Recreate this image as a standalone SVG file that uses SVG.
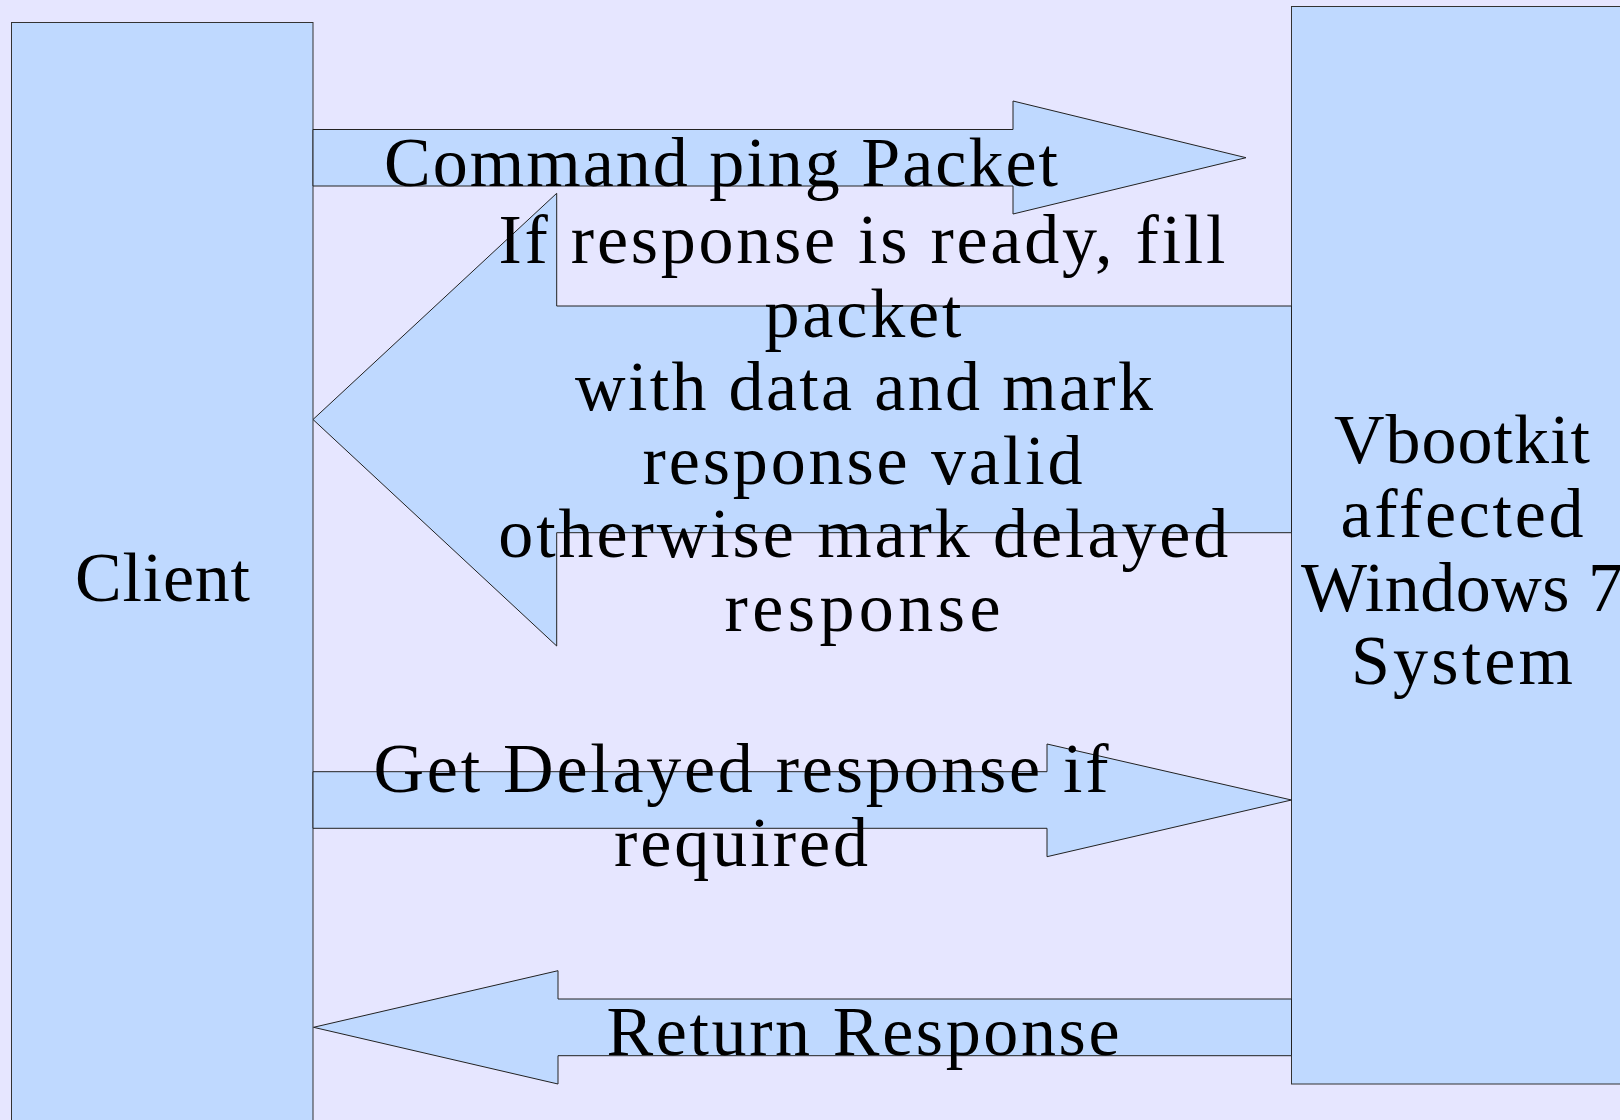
<svg xmlns="http://www.w3.org/2000/svg" width="1620" height="1120" viewBox="0 0 1620 1120">
<style>
.bg{fill:#e6e6ff}
.box{fill:#bfd9ff;stroke:#333;stroke-width:1}
.arrow{fill:#bfd9ff;stroke:#222;stroke-width:1;stroke-linejoin:miter}
.t{font-family:"Liberation Serif","Times New Roman",serif;font-size:70px;fill:#000;text-anchor:middle}
</style>
<rect class="bg" x="0" y="0" width="1620" height="1120"/>
<g id="client">
<rect class="box" x="11.5" y="22.5" width="301.5" height="1110"/>
<text class="t" x="162.5" y="601" textLength="175" lengthAdjust="spacing">Client</text>
</g>
<g id="vbootkit">
<rect class="box" x="1291.5" y="6.5" width="340" height="1077.5"/>
<text class="t" x="1462" y="463" textLength="256" lengthAdjust="spacing">Vbootkit</text>
<text class="t" x="1462" y="537" textLength="243" lengthAdjust="spacing">affected</text>
<text class="t" x="1462" y="611" textLength="322" lengthAdjust="spacing">Windows 7</text>
<text class="t" x="1462" y="684" textLength="222" lengthAdjust="spacing">System</text>
</g>
<g id="connectors">
<polygon id="arrow-command" class="arrow" points="313,129.5 1013,129.5 1013,101 1246,157.7 1013,214 1013,186 313,186"/>
<polygon id="arrow-response" class="arrow" points="1291.5,306 556.7,306 556.7,193.3 313,419.5 556.7,646 556.7,532.7 1291.5,532.7"/>
<polygon id="arrow-delayed" class="arrow" points="313,771.7 1047,771.7 1047,744 1291.5,800 1047,856.7 1047,828.3 313,828.3"/>
<polygon id="arrow-return" class="arrow" points="1291.5,999 558,999 558,970.7 313.5,1027.3 558,1084 558,1055.7 1291.5,1055.7"/>
</g>
<g id="label-command">
<text class="t" x="721" y="186" textLength="674" lengthAdjust="spacing">Command ping Packet</text>
</g>
<g id="label-response">
<text class="t" x="862" y="263" textLength="727" lengthAdjust="spacing">If response is ready, fill</text>
<text class="t" x="863" y="337" textLength="197" lengthAdjust="spacing">packet</text>
<text class="t" x="864" y="410" textLength="578" lengthAdjust="spacing">with data and mark</text>
<text class="t" x="862.5" y="484" textLength="440" lengthAdjust="spacing">response valid</text>
<text class="t" x="863.3" y="557" textLength="730" lengthAdjust="spacing">otherwise mark delayed</text>
<text class="t" x="862.5" y="631" textLength="276" lengthAdjust="spacing">response</text>
</g>
<g id="label-delayed">
<text class="t" x="741" y="792" textLength="735" lengthAdjust="spacing">Get Delayed response if</text>
<text class="t" x="741" y="866" textLength="254" lengthAdjust="spacing">required</text>
</g>
<g id="label-return">
<text class="t" x="863" y="1055" textLength="513" lengthAdjust="spacing">Return Response</text>
</g>
</svg>
